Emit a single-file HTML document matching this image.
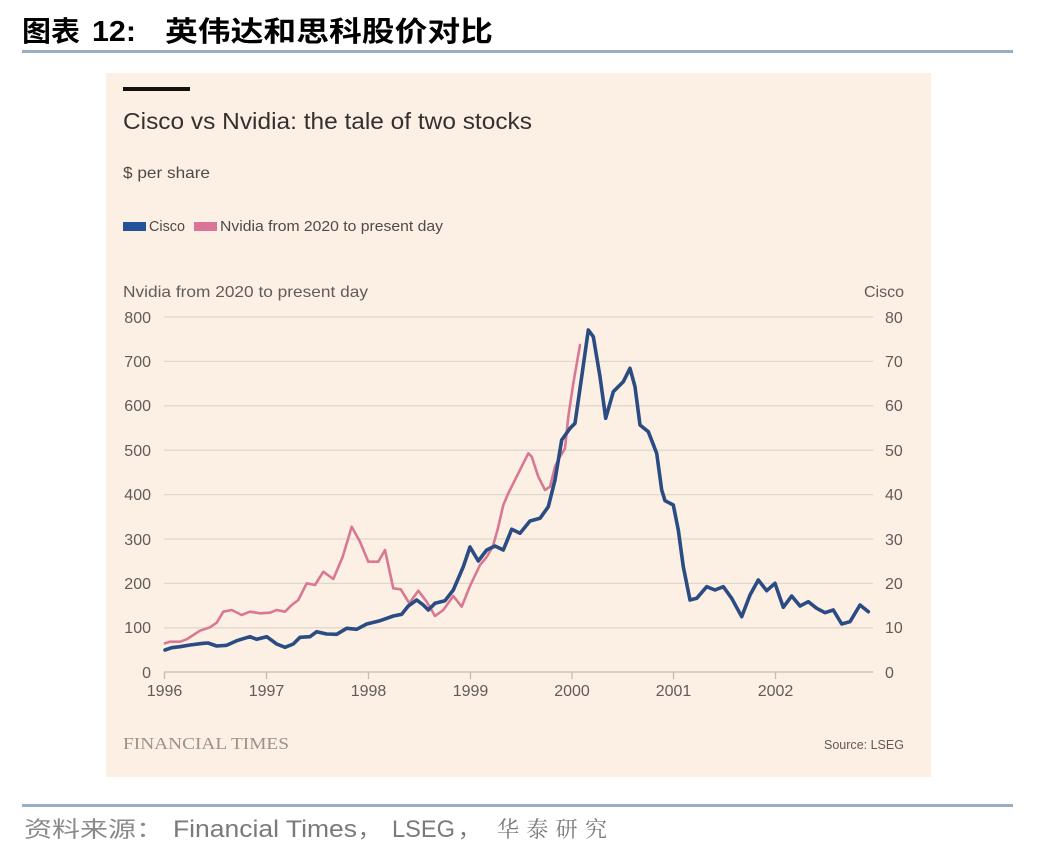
<!DOCTYPE html>
<html>
<head>
<meta charset="utf-8">
<style>
  html, body { margin: 0; padding: 0; background: #ffffff; }
  body { width: 1048px; height: 852px; overflow: hidden; }
  svg { display: block; }
  .ax { font-family: "Liberation Sans", sans-serif; font-size: 16px; fill: #615b57; }
</style>
</head>
<body>
<svg width="1048" height="852" viewBox="0 0 1048 852" xmlns="http://www.w3.org/2000/svg">
  <rect x="0" y="0" width="1048" height="852" fill="#ffffff"/>

  <!-- Header -->
  <text x="22" y="41" font-family="'Liberation Sans','Noto Sans CJK SC',sans-serif" font-weight="bold" font-size="28" fill="#000" textLength="58" lengthAdjust="spacingAndGlyphs">图表</text>
  <text x="92" y="41" font-family="'Liberation Sans',sans-serif" font-weight="bold" font-size="29" fill="#000" textLength="44" lengthAdjust="spacingAndGlyphs">12:</text>
  <text x="165" y="41" font-family="'Liberation Sans','Noto Sans CJK SC',sans-serif" font-weight="bold" font-size="28" fill="#000" textLength="328" lengthAdjust="spacingAndGlyphs">英伟达和思科股价对比</text>
  <rect x="22" y="50" width="991" height="3" fill="#98aec5"/>

  <!-- Panel -->
  <rect x="106" y="73" width="825" height="704" fill="#fcf0e5"/>
  <rect x="123" y="87" width="67" height="4" fill="#111111"/>
  <text x="123" y="129" font-family="'Liberation Sans',sans-serif" font-size="23" fill="#33302e" textLength="409" lengthAdjust="spacingAndGlyphs">Cisco vs Nvidia: the tale of two stocks</text>
  <text x="123" y="178" font-family="'Liberation Sans',sans-serif" font-size="16" fill="#4f4a46" textLength="87" lengthAdjust="spacingAndGlyphs">$ per share</text>

  <!-- Legend -->
  <rect x="123" y="222" width="23" height="9" fill="#22529a"/>
  <text x="149" y="231" font-family="'Liberation Sans',sans-serif" font-size="14.5" fill="#4f4a46" textLength="36" lengthAdjust="spacingAndGlyphs">Cisco</text>
  <rect x="194" y="222" width="23" height="9" fill="#db7598"/>
  <text x="220" y="231" font-family="'Liberation Sans',sans-serif" font-size="14.5" fill="#4f4a46" textLength="223" lengthAdjust="spacingAndGlyphs">Nvidia from 2020 to present day</text>

  <!-- Axis titles -->
  <text x="123" y="297" class="ax" textLength="245" lengthAdjust="spacingAndGlyphs">Nvidia from 2020 to present day</text>
  <text x="904" y="297" class="ax" text-anchor="end">Cisco</text>

  <!-- Gridlines -->
  <g stroke="#e0d7cd" stroke-width="1.3">
    <line x1="164" y1="317" x2="873" y2="317"/>
    <line x1="164" y1="361.4" x2="873" y2="361.4"/>
    <line x1="164" y1="405.8" x2="873" y2="405.8"/>
    <line x1="164" y1="450.2" x2="873" y2="450.2"/>
    <line x1="164" y1="494.6" x2="873" y2="494.6"/>
    <line x1="164" y1="539" x2="873" y2="539"/>
    <line x1="164" y1="583.4" x2="873" y2="583.4"/>
    <line x1="164" y1="627.8" x2="873" y2="627.8"/>
  </g>
  <line x1="164" y1="672" x2="873" y2="672" stroke="#c4bbb2" stroke-width="1.3"/>
  <g stroke="#c4bbb2" stroke-width="1.3">
    <line x1="164.5" y1="672" x2="164.5" y2="679"/>
    <line x1="266.5" y1="672" x2="266.5" y2="679"/>
    <line x1="368.5" y1="672" x2="368.5" y2="679"/>
    <line x1="470.5" y1="672" x2="470.5" y2="679"/>
    <line x1="572" y1="672" x2="572" y2="679"/>
    <line x1="673.5" y1="672" x2="673.5" y2="679"/>
    <line x1="775.5" y1="672" x2="775.5" y2="679"/>
  </g>

  <!-- Left tick labels -->
  <g class="ax" text-anchor="end">
    <text x="151" y="323">800</text>
    <text x="151" y="367">700</text>
    <text x="151" y="411">600</text>
    <text x="151" y="456">500</text>
    <text x="151" y="500">400</text>
    <text x="151" y="545">300</text>
    <text x="151" y="589">200</text>
    <text x="151" y="633">100</text>
    <text x="151" y="678">0</text>
  </g>
  <!-- Right tick labels -->
  <g class="ax">
    <text x="885" y="323">80</text>
    <text x="885" y="367">70</text>
    <text x="885" y="411">60</text>
    <text x="885" y="456">50</text>
    <text x="885" y="500">40</text>
    <text x="885" y="545">30</text>
    <text x="885" y="589">20</text>
    <text x="885" y="633">10</text>
    <text x="885" y="678">0</text>
  </g>
  <!-- Year labels -->
  <g class="ax" text-anchor="middle">
    <text x="164.5" y="696">1996</text>
    <text x="266.5" y="696">1997</text>
    <text x="368.5" y="696">1998</text>
    <text x="470.5" y="696">1999</text>
    <text x="572" y="696">2000</text>
    <text x="673.5" y="696">2001</text>
    <text x="775.5" y="696">2002</text>
  </g>

  <!-- Nvidia (pink) -->
  <polyline fill="none" stroke="#d87893" stroke-width="2.6" stroke-linejoin="round" stroke-linecap="round"
    points="165,643.3 170,641.7 180,641.7 186.7,639.3 193.3,635 200,630.7 210,627.3 216.7,622.7 223.3,611.7 231.7,610 241.7,615 250,611.7 260,613.3 270,612.7 276.7,610 285,611.7 291.7,605 298.3,600 306.7,583.3 315,585 323.3,571.7 333.3,579 342.7,556.7 351.7,526.7 360,541.7 368.3,561.7 378.3,561.7 385,550 393.3,588.3 400.7,589.3 409.3,603.3 418.3,590.7 426.7,601.7 435,616 443.3,610 453.3,596 461.7,606.7 470,586 480,565 486.7,557 493,546 498,528 503.3,505 508.3,493.3 518.3,473.3 528.3,453.3 531.7,456.7 538.3,476.7 545,490 550,486.7 555,466.7 560,456.7 565,448.3 568.3,416.7 573.3,383.3 580,345"/>

  <!-- Cisco (blue) -->
  <polyline fill="none" stroke="#2a4c83" stroke-width="3.6" stroke-linejoin="round" stroke-linecap="round"
    points="165,650 171.7,647.7 180,646.7 190,645 203.3,643.3 208,643 216.7,646 226.7,645.3 236.7,640.7 250,636.7 256.7,639.3 266.7,636.7 276.7,644 285,647.3 293.3,644 300,637.3 310,636.7 316.7,631.7 326.7,634 336.7,634.3 346.7,628.3 356.7,629.3 366.7,624 380,620.7 393.3,616 401.7,614.3 408.3,606 416.7,600 423.3,605 428.3,610 435,603.3 445,600.7 453.3,590 463.3,566.7 470,547 478.3,561 486.7,550 495,546 503.3,550 511.7,529.3 520,533.3 530,521 540,518.3 548.3,506.7 555,480 561.7,440 570,428.3 575,423.3 581.7,376.7 588.3,330 593.3,336.7 600,376.7 605.7,418.3 613.3,391.7 623.3,381.7 630,368.3 635,386.7 640,425 648.3,431.7 656.7,453.3 661.7,490 665,500.7 673.3,505 678.3,530 683.3,566.7 690,600 696.7,598.3 706.7,586.7 715,590 723.3,586.7 731.7,598.3 741.7,616.7 750,595 758.3,580 766.7,590.7 775,583.3 783.3,607.3 791.7,596 800,606 808.3,601.7 816.7,608.3 825,612.7 833.3,610 841.7,624 850,621.7 860,605 868.3,611.7"/>

  <!-- Footer in panel -->
  <text x="123" y="749" font-family="'Liberation Serif',serif" font-size="17" fill="#9a918a" textLength="166" lengthAdjust="spacingAndGlyphs">FINANCIAL TIMES</text>
  <text x="824" y="749" font-family="'Liberation Sans',sans-serif" font-size="13" fill="#5f5a56" textLength="80" lengthAdjust="spacingAndGlyphs">Source: LSEG</text>

  <!-- Bottom -->
  <rect x="22" y="804" width="991" height="3" fill="#98aec5"/>
  <text x="24" y="837" font-family="'Liberation Sans','Noto Sans CJK SC',sans-serif" font-size="22" fill="#8a8a8a" textLength="140" lengthAdjust="spacingAndGlyphs">资料来源：</text>
  <text x="173" y="837" font-family="'Liberation Sans',sans-serif" font-size="24" fill="#7a7a7a" textLength="184" lengthAdjust="spacingAndGlyphs">Financial Times</text>
  <text x="358" y="837" font-family="'Liberation Sans','Noto Sans CJK SC',sans-serif" font-size="22" fill="#7a7a7a">，</text>
  <text x="392" y="837" font-family="'Liberation Sans',sans-serif" font-size="24" fill="#7a7a7a" textLength="63" lengthAdjust="spacingAndGlyphs">LSEG</text>
  <text x="458" y="837" font-family="'Liberation Sans','Noto Sans CJK SC',sans-serif" font-size="22" fill="#7a7a7a">，</text>
  <text x="497" y="837" font-family="'Liberation Serif','Noto Serif CJK SC',serif" font-size="22" fill="#7a7a7a" textLength="110" lengthAdjust="spacing">华泰研究</text>
</svg>
</body>
</html>
